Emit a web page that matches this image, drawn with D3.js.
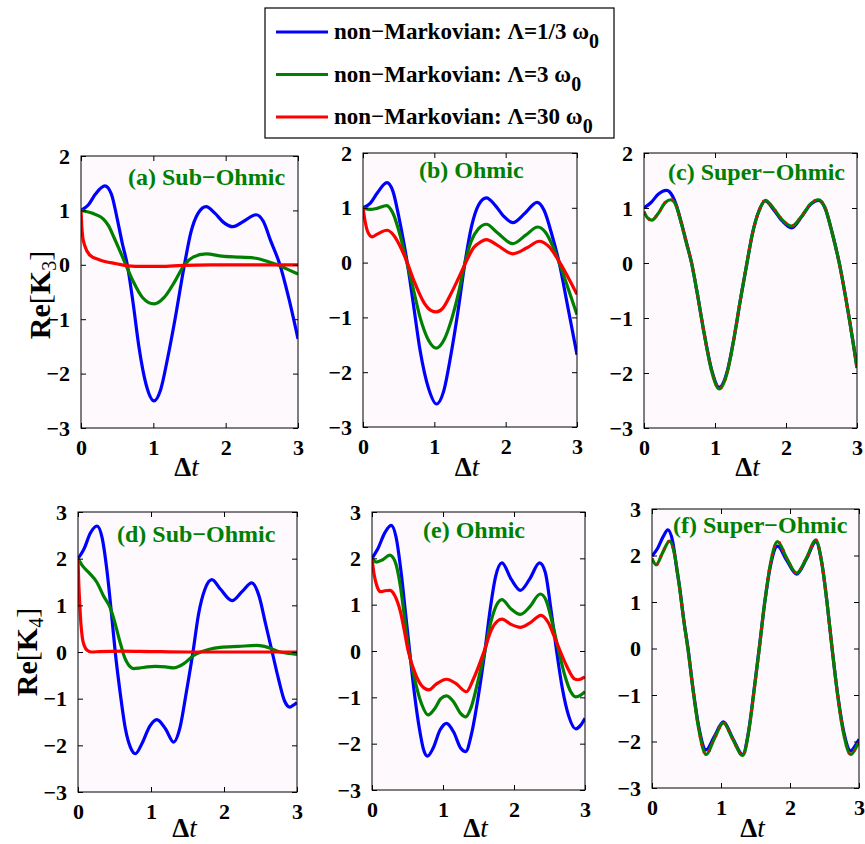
<!DOCTYPE html>
<html><head><meta charset="utf-8">
<script src="https://cdn.jsdelivr.net/npm/d3@7"></script>
<style>
body{margin:0;background:#fff}
svg text{font-family:"Liberation Serif","Times New Roman",serif}
</style>
</head><body>
<svg id="chart" width="865" height="844"></svg>
<script>
// ---------- data ----------
const xTicks = [0, 1, 2, 3];
const yTicksK3 = [-3, -2, -1, 0, 1, 2];
const yTicksK4 = [-3, -2, -1, 0, 1, 2, 3];
const legendLabels = ["non\u2212Markovian: \u039B=1/3 \u03C9", "non\u2212Markovian: \u039B=3 \u03C9", "non\u2212Markovian: \u039B=30 \u03C9"];
const legendSub = ["0", "0", "0"];
const seriesColors = ["#0000ff", "#008000", "#ff0000"];
const panelTitles = ["(a) Sub\u2212Ohmic", "(b) Ohmic", "(c) Super\u2212Ohmic", "(d) Sub\u2212Ohmic", "(e) Ohmic", "(f) Super\u2212Ohmic"];

// (a) Re[K3] sub-Ohmic
const aBlue = [[0,1.0],[0.1,1.1],[0.2,1.3],[0.33,1.45],[0.42,1.3],[0.5,0.85],[0.57,0.4],[0.64,0],[0.72,-0.7],[0.8,-1.5],[0.9,-2.2],[1.01,-2.5],[1.1,-2.3],[1.2,-1.7],[1.3,-1.0],[1.43,0],[1.52,0.6],[1.62,0.95],[1.73,1.07],[1.85,0.95],[1.97,0.78],[2.1,0.7],[2.25,0.8],[2.42,0.92],[2.52,0.8],[2.62,0.45],[2.75,0],[2.87,-0.6],[3,-1.36]];
const aGreen = [[0,1.0],[0.15,0.95],[0.31,0.84],[0.38,0.72],[0.45,0.52],[0.53,0.28],[0.62,0],[0.72,-0.3],[0.85,-0.6],[1.01,-0.72],[1.15,-0.6],[1.3,-0.3],[1.43,0],[1.55,0.14],[1.73,0.2],[1.95,0.16],[2.2,0.14],[2.42,0.12],[2.58,0.06],[2.72,0],[2.85,-0.08],[3,-0.17]];
const aRed = [[0,1.0],[0.01,0.72],[0.023,0.52],[0.055,0.34],[0.12,0.18],[0.26,0.09],[0.49,0.02],[0.65,-0.02],[0.85,-0.03],[1.1,-0.03],[1.4,-0.01],[1.8,0],[3,0]];

// (b) Re[K3] Ohmic
const bBlue = [[0,1.0],[0.1,1.08],[0.2,1.27],[0.335,1.46],[0.42,1.3],[0.5,0.85],[0.56,0.45],[0.62,0],[0.7,-0.7],[0.8,-1.6],[0.92,-2.3],[1.03,-2.58],[1.13,-2.35],[1.23,-1.7],[1.33,-0.9],[1.43,0],[1.52,0.65],[1.62,1.05],[1.73,1.18],[1.85,1.05],[1.97,0.85],[2.1,0.73],[2.27,0.9],[2.44,1.1],[2.54,0.95],[2.65,0.5],[2.75,0],[2.87,-0.8],[3,-1.68]];
const bGreen = [[0,1.0],[0.1,0.97],[0.2,0.99],[0.33,1.04],[0.42,0.9],[0.52,0.5],[0.615,0],[0.7,-0.45],[0.8,-1.0],[0.92,-1.42],[1.03,-1.56],[1.14,-1.4],[1.25,-1.0],[1.34,-0.55],[1.43,0],[1.52,0.4],[1.62,0.62],[1.73,0.7],[1.88,0.55],[2.1,0.345],[2.28,0.5],[2.45,0.65],[2.56,0.55],[2.66,0.3],[2.75,0],[2.87,-0.45],[3,-0.95]];
const bRed = [[0,1.0],[0.03,0.75],[0.07,0.55],[0.125,0.47],[0.2,0.52],[0.335,0.59],[0.43,0.5],[0.52,0.3],[0.62,0],[0.72,-0.35],[0.85,-0.72],[0.95,-0.87],[1.03,-0.9],[1.12,-0.83],[1.24,-0.55],[1.34,-0.28],[1.44,0],[1.55,0.27],[1.65,0.38],[1.73,0.42],[1.88,0.32],[2.1,0.16],[2.3,0.27],[2.47,0.39],[2.6,0.3],[2.76,0],[2.88,-0.28],[3,-0.58]];

// (c) Re[K3] super-Ohmic
const cBlue = [[0,1.0],[0.1,1.1],[0.2,1.25],[0.32,1.32],[0.4,1.22],[0.45,1.07],[0.52,0.76],[0.6,0.36],[0.67,0],[0.75,-0.55],[0.85,-1.3],[0.95,-1.93],[1.06,-2.26],[1.17,-1.98],[1.27,-1.35],[1.36,-0.65],[1.45,0],[1.53,0.55],[1.62,0.95],[1.71,1.13],[1.82,0.98],[1.95,0.76],[2.08,0.64],[2.22,0.84],[2.35,1.07],[2.46,1.14],[2.55,1.0],[2.65,0.55],[2.75,0],[2.87,-0.85],[3,-1.9]];
const cGreen = [[0,0.93],[0.05,0.82],[0.11,0.78],[0.2,0.9],[0.3,1.1],[0.38,1.15],[0.45,1.05],[0.52,0.75],[0.6,0.35],[0.67,0],[0.75,-0.55],[0.85,-1.3],[0.95,-1.95],[1.06,-2.29],[1.17,-2.0],[1.27,-1.35],[1.36,-0.65],[1.45,0],[1.53,0.55],[1.62,0.95],[1.71,1.14],[1.82,1.0],[1.95,0.78],[2.08,0.67],[2.22,0.85],[2.35,1.08],[2.46,1.15],[2.55,1.0],[2.65,0.55],[2.75,0],[2.87,-0.85],[3,-1.91]];
const cRed = [[0,0.93],[0.05,0.82],[0.11,0.78],[0.2,0.9],[0.3,1.1],[0.38,1.15],[0.45,1.05],[0.52,0.75],[0.6,0.35],[0.67,0],[0.75,-0.55],[0.85,-1.3],[0.95,-1.95],[1.06,-2.29],[1.17,-2.0],[1.27,-1.35],[1.36,-0.65],[1.45,0],[1.53,0.55],[1.62,0.95],[1.71,1.14],[1.82,1.0],[1.95,0.78],[2.08,0.67],[2.22,0.85],[2.35,1.08],[2.46,1.15],[2.55,1.0],[2.65,0.55],[2.75,0],[2.87,-0.85],[3,-1.91]];

// (d) Re[K4] sub-Ohmic
const dBlue = [[0,2.0],[0.08,2.2],[0.17,2.55],[0.26,2.7],[0.33,2.45],[0.4,1.7],[0.46,0.8],[0.51,0],[0.58,-0.9],[0.65,-1.65],[0.72,-2.05],[0.785,-2.18],[0.88,-1.95],[0.98,-1.6],[1.08,-1.45],[1.2,-1.65],[1.31,-1.93],[1.4,-1.6],[1.48,-0.9],[1.575,0],[1.65,0.8],[1.74,1.35],[1.835,1.55],[1.95,1.35],[2.11,1.1],[2.25,1.3],[2.38,1.48],[2.48,1.2],[2.57,0.6],[2.66,0],[2.75,-0.6],[2.83,-1.05],[2.9,-1.18],[2.95,-1.14],[3,-1.08]];
const dGreen = [[0,2.0],[0.06,1.85],[0.15,1.7],[0.26,1.49],[0.35,1.2],[0.44,0.95],[0.5,0.66],[0.56,0.3],[0.6,0.08],[0.63,-0.08],[0.67,-0.22],[0.71,-0.31],[0.76,-0.355],[0.84,-0.345],[0.95,-0.32],[1.06,-0.31],[1.2,-0.32],[1.31,-0.34],[1.45,-0.25],[1.58,-0.08],[1.68,0],[1.8,0.06],[1.95,0.1],[2.2,0.12],[2.45,0.14],[2.6,0.1],[2.77,0],[2.9,-0.03],[3,-0.05]];
const dRed = [[0,2.0],[0.01,1.5],[0.025,1.0],[0.04,0.6],[0.06,0.3],[0.09,0.12],[0.13,0.03],[0.18,0.0],[0.3,0.01],[0.6,0.02],[1.0,0.01],[1.5,0.0],[3,0.0]];

// (e) Re[K4] Ohmic
const eBlue = [[0,2.0],[0.08,2.2],[0.18,2.55],[0.27,2.71],[0.34,2.45],[0.41,1.7],[0.47,0.85],[0.53,0],[0.6,-0.95],[0.67,-1.7],[0.73,-2.15],[0.78,-2.27],[0.86,-2.1],[0.96,-1.7],[1.05,-1.56],[1.15,-1.75],[1.25,-2.1],[1.32,-2.17],[1.4,-1.8],[1.5,-0.95],[1.59,0],[1.66,0.85],[1.74,1.6],[1.83,1.9],[1.96,1.55],[2.09,1.31],[2.22,1.55],[2.36,1.9],[2.44,1.7],[2.52,0.9],[2.6,0],[2.68,-0.8],[2.77,-1.4],[2.87,-1.68],[2.94,-1.6],[3,-1.45]];
const eGreen = [[0,2.0],[0.06,1.92],[0.15,1.97],[0.25,2.07],[0.32,1.95],[0.4,1.4],[0.46,0.7],[0.52,0],[0.6,-0.6],[0.7,-1.15],[0.79,-1.38],[0.88,-1.25],[0.97,-1.03],[1.05,-0.97],[1.15,-1.1],[1.25,-1.35],[1.32,-1.42],[1.4,-1.2],[1.5,-0.6],[1.59,0],[1.67,0.6],[1.75,0.98],[1.83,1.11],[1.95,0.92],[2.09,0.79],[2.22,0.95],[2.37,1.23],[2.45,1.1],[2.54,0.6],[2.63,0],[2.72,-0.55],[2.8,-0.88],[2.87,-0.99],[2.94,-0.95],[3,-0.88]];
const eRed = [[0,2.0],[0.03,1.65],[0.07,1.4],[0.12,1.28],[0.18,1.3],[0.25,1.31],[0.32,1.2],[0.4,0.85],[0.46,0.4],[0.51,0],[0.6,-0.45],[0.7,-0.75],[0.8,-0.84],[0.9,-0.72],[1.05,-0.61],[1.18,-0.7],[1.33,-0.88],[1.43,-0.6],[1.58,0],[1.68,0.45],[1.77,0.65],[1.83,0.69],[1.95,0.58],[2.09,0.51],[2.22,0.6],[2.38,0.77],[2.48,0.62],[2.57,0.3],[2.65,0],[2.75,-0.35],[2.85,-0.6],[2.9,-0.62],[3,-0.56]];

// (f) Re[K4] super-Ohmic
const fBlue = [[0,1.99],[0.08,2.15],[0.16,2.4],[0.23,2.55],[0.3,2.3],[0.36,1.7],[0.4,1.32],[0.46,0.62],[0.52,0.02],[0.6,-0.93],[0.68,-1.7],[0.785,-2.18],[0.9,-1.9],[1.035,-1.58],[1.17,-1.93],[1.315,-2.28],[1.4,-1.78],[1.48,-0.88],[1.555,0.02],[1.63,0.95],[1.72,1.8],[1.82,2.2],[1.95,1.9],[2.095,1.6],[2.24,1.93],[2.375,2.3],[2.46,1.85],[2.54,0.95],[2.61,0],[2.69,-0.98],[2.78,-1.8],[2.88,-2.2],[2.95,-2.08],[3,-1.95]];
const fGreen = [[0,1.93],[0.06,1.8],[0.15,2.05],[0.255,2.31],[0.33,2.0],[0.4,1.3],[0.46,0.6],[0.52,0],[0.6,-0.95],[0.68,-1.75],[0.785,-2.28],[0.9,-1.95],[1.035,-1.6],[1.17,-1.95],[1.315,-2.3],[1.4,-1.8],[1.48,-0.9],[1.555,0],[1.63,0.95],[1.72,1.85],[1.82,2.3],[1.95,1.95],[2.095,1.62],[2.24,1.95],[2.375,2.33],[2.46,1.85],[2.54,0.95],[2.61,0],[2.69,-1.0],[2.78,-1.85],[2.88,-2.28],[2.95,-2.15],[3,-2.0]];
const fRed = [[0,1.93],[0.06,1.8],[0.15,2.05],[0.255,2.31],[0.33,2.0],[0.4,1.3],[0.46,0.6],[0.52,0],[0.6,-0.95],[0.68,-1.75],[0.785,-2.28],[0.9,-1.95],[1.035,-1.6],[1.17,-1.95],[1.315,-2.3],[1.4,-1.8],[1.48,-0.9],[1.555,0],[1.63,0.95],[1.72,1.85],[1.82,2.3],[1.95,1.95],[2.095,1.62],[2.24,1.95],[2.375,2.33],[2.46,1.85],[2.54,0.95],[2.61,0],[2.69,-1.0],[2.78,-1.85],[2.88,-2.28],[2.95,-2.15],[3,-2.0]];

// ---------- layout ----------
const svg = d3.select("#chart");
const FONT = '"Liberation Serif","Times New Roman",serif';
const BG = "#fdf9fd";

const panels = [
  {x0:81, x1:298, y0:156, y1:428, yTicks:yTicksK3, series:[aBlue,aGreen,aRed], title:panelTitles[0], tx:128, ty:185, overlay:false},
  {x0:363, x1:577, y0:153, y1:427, yTicks:yTicksK3, series:[bBlue,bGreen,bRed], title:panelTitles[1], tx:419, ty:178, overlay:false},
  {x0:644, x1:857, y0:153, y1:428, yTicks:yTicksK3, series:[cBlue,cGreen,cRed], title:panelTitles[2], tx:668, ty:180, overlay:true},
  {x0:78, x1:297, y0:512, y1:792, yTicks:yTicksK4, series:[dBlue,dGreen,dRed], title:panelTitles[3], tx:117, ty:542, overlay:false},
  {x0:372, x1:585, y0:512, y1:790, yTicks:yTicksK4, series:[eBlue,eGreen,eRed], title:panelTitles[4], tx:423, ty:538, overlay:false},
  {x0:652, x1:859, y0:509, y1:788, yTicks:yTicksK4, series:[fBlue,fGreen,fRed], title:panelTitles[5], tx:673, ty:533, overlay:true}
];

panels.forEach((p, i) => {
  const x = d3.scaleLinear().domain([0, 3]).range([p.x0, p.x1]);
  const yd = d3.extent(p.yTicks);
  const y = d3.scaleLinear().domain(yd).range([p.y1, p.y0]);
  const g = svg.append("g");
  g.append("rect").attr("x", p.x0).attr("y", p.y0).attr("width", p.x1 - p.x0).attr("height", p.y1 - p.y0)
    .attr("fill", BG);

  const clipId = "clip" + i;
  svg.append("clipPath").attr("id", clipId).append("rect")
    .attr("x", p.x0).attr("y", p.y0).attr("width", p.x1 - p.x0).attr("height", p.y1 - p.y0);

  const line = d3.line().x(d => x(d[0])).y(d => y(d[1])).curve(d3.curveMonotoneX);
  const lg = g.append("g").attr("clip-path", `url(#${clipId})`);
  lg.append("path").datum(p.series[0]).attr("d", line).attr("fill", "none")
    .attr("stroke", seriesColors[0]).attr("stroke-width", 3.2).attr("stroke-linejoin", "round");
  lg.append("path").datum(p.series[1]).attr("d", line).attr("fill", "none")
    .attr("stroke", seriesColors[1]).attr("stroke-width", 3.2).attr("stroke-linejoin", "round");
  const r = lg.append("path").datum(p.series[2]).attr("d", line).attr("fill", "none")
    .attr("stroke", seriesColors[2]).attr("stroke-width", 3.2).attr("stroke-linejoin", "round");
  if (p.overlay) r.attr("stroke-dasharray", "1.3,7");

  const styleAxis = sel => {
    sel.select(".domain").remove();
    sel.selectAll(".tick line").attr("stroke", "#000").attr("stroke-width", 1);
    sel.selectAll(".tick text").attr("font-family", FONT).attr("font-weight", "bold")
      .attr("font-size", 22).attr("fill", "#000");
  };
  g.append("g").attr("transform", `translate(0,${p.y1})`)
    .call(d3.axisBottom(x).tickValues(xTicks).tickFormat(d3.format("d")).tickSizeInner(-5).tickSizeOuter(0).tickPadding(11))
    .call(styleAxis);
  g.append("g").attr("transform", `translate(0,${p.y0})`)
    .call(d3.axisTop(x).tickValues(xTicks).tickFormat("").tickSizeInner(-5).tickSizeOuter(0))
    .call(styleAxis);
  g.append("g").attr("transform", `translate(${p.x0},0)`)
    .call(d3.axisLeft(y).tickValues(p.yTicks).tickFormat(d3.format("d")).tickSizeInner(-5).tickSizeOuter(0).tickPadding(11))
    .call(styleAxis);
  g.append("g").attr("transform", `translate(${p.x1},0)`)
    .call(d3.axisRight(y).tickValues(p.yTicks).tickFormat("").tickSizeInner(-5).tickSizeOuter(0))
    .call(styleAxis);
  g.append("rect").attr("x", p.x0).attr("y", p.y0).attr("width", p.x1 - p.x0).attr("height", p.y1 - p.y0)
    .attr("fill", "none").attr("stroke", "#000").attr("stroke-width", 1);

  g.append("text").attr("x", p.tx).attr("y", p.ty).attr("font-size", 24).attr("font-weight", "bold")
    .attr("fill", "#008000").text(p.title);

  const xl = g.append("text").attr("x", (p.x0 + p.x1) / 2 - 3).attr("y", i < 3 ? 476 : 837)
    .attr("text-anchor", "middle").attr("font-size", 27);
  xl.append("tspan").attr("font-weight", "bold").text("\u0394");
  xl.append("tspan").attr("font-style", "italic").text("t");
});

// y labels
[[50, 295, "3"], [37, 652, "4"]].forEach(([lx, ly, sub]) => {
  const t = svg.append("text").attr("transform", `translate(${lx},${ly}) rotate(-90)`)
    .attr("text-anchor", "middle").attr("font-size", 30);
  t.append("tspan").attr("font-weight", "bold").text("Re");
  t.append("tspan").text("[");
  t.append("tspan").attr("font-weight", "bold").text("K");
  t.append("tspan").attr("font-size", 20).attr("dy", 6).text(sub);
  t.append("tspan").attr("dy", -6).text("]");
});

// legend
const leg = svg.append("g");
leg.append("rect").attr("x", 265).attr("y", 8).attr("width", 349).attr("height", 130)
  .attr("fill", "#fff").attr("stroke", "#000").attr("stroke-width", 1.2);
legendLabels.forEach((lab, k) => {
  const cy = 32 + k * 42.5;
  leg.append("line").attr("x1", 276).attr("x2", 328).attr("y1", cy).attr("y2", cy)
    .attr("stroke", seriesColors[k]).attr("stroke-width", 3.2);
  const t = leg.append("text").attr("x", 334).attr("y", cy + 7).attr("font-size", 23).attr("font-weight", "bold");
  t.append("tspan").text(lab);
  t.append("tspan").attr("dy", 9).attr("font-size", 20).text(legendSub[k]);
});
</script>
</body></html>
